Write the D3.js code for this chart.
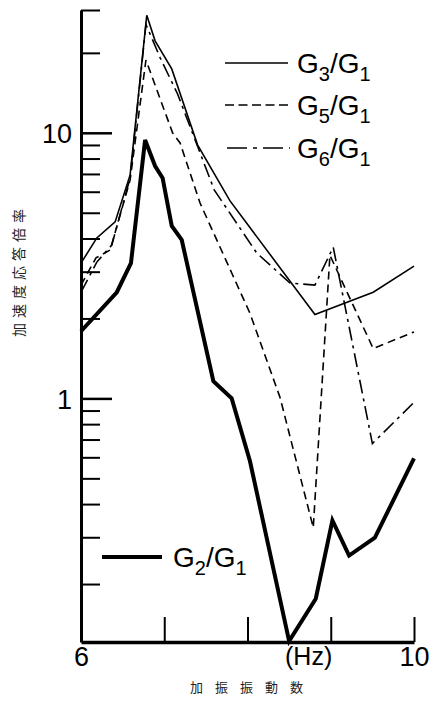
<!DOCTYPE html>
<html>
<head>
<meta charset="utf-8">
<script src="https://cdn.jsdelivr.net/npm/d3@7"></script>
<style>
  body { margin: 0; background: #fff; }
  svg { display: block; }
  text { font-family: "Liberation Sans", Arial, sans-serif; fill: #000; }
  .jp { font-family: "Noto Sans CJK JP", sans-serif; fill: #222; }
</style>
</head>
<body>
<div id="chart"></div>
<script>
// frequency (Hz) and response ratio for each curve
const freqG2 = [6.0, 6.43, 6.6, 6.77, 6.89, 6.98, 7.09, 7.21, 7.59, 7.81, 8.03, 8.5, 8.82, 9.02, 9.22, 9.53, 10.0];
const valG2  = [1.79, 2.51, 3.23, 9.4, 7.5, 6.76, 4.46, 3.95, 1.16, 1.0, 0.58, 0.122, 0.176, 0.347, 0.256, 0.299, 0.594];

const freqG3 = [6.0, 6.19, 6.41, 6.59, 6.79, 6.89, 7.09, 7.4, 7.79, 8.81, 9.51, 10.0];
const valG3  = [3.23, 4.02, 4.62, 6.94, 27.7, 22.2, 17.4, 9.01, 5.54, 2.07, 2.51, 3.15];

const freqG5 = [6.0, 6.18, 6.35, 6.59, 6.78, 7.1, 7.19, 7.43, 8.03, 8.39, 8.79, 8.99, 9.51, 10.0];
const valG5  = [2.67, 3.38, 3.62, 6.65, 18.8, 10.0, 9.16, 5.44, 2.09, 1.01, 0.326, 3.46, 1.54, 1.78];

const freqG6 = [6.0, 6.19, 6.37, 6.59, 6.78, 6.95, 7.16, 7.6, 8.11, 8.51, 8.81, 9.03, 9.5, 10.0];
const valG6  = [2.51, 3.26, 3.78, 6.77, 25.6, 19.2, 14.0, 6.1, 3.53, 2.72, 2.67, 3.71, 0.676, 0.966];

// axis ticks
const yMajorTicks = [1, 10];
const yMinorTicks = [0.2, 0.3, 0.4, 0.5, 0.6, 0.7, 0.8, 0.9, 2, 3, 4, 5, 6, 7, 8, 9, 20, 29];
const xTicks = [6, 7, 8, 9, 10];
const xTickLabels = ["6", "", "", "", "10"];

const yTitle = "加速度応答倍率";
const xTitle = "加振振動数";
const xUnit = "(Hz)";

const width = 429, height = 702;
const margin = { top: 10, right: 15, bottom: 60, left: 81 };

const svg = d3.select("#chart")
  .append("svg")
  .attr("width", width)
  .attr("height", height);

const x = d3.scaleLinear()
  .domain([6, 10])
  .range([margin.left, width - margin.right]);

const y = d3.scaleLog()
  .domain([0.121, 29])
  .range([height - margin.bottom, margin.top]);

// y axis: long ticks for decades, short ticks for the rest
svg.append("g")
  .attr("transform", `translate(${margin.left},0)`)
  .call(d3.axisLeft(y).tickValues(yMinorTicks).tickSize(-19).tickSizeOuter(0).tickFormat(""))
  .call(g => g.select(".domain").remove())
  .call(g => g.selectAll("line").attr("stroke-width", 2));

svg.append("g")
  .attr("transform", `translate(${margin.left},0)`)
  .call(d3.axisLeft(y).tickValues(yMajorTicks).tickSize(-31).tickSizeOuter(0).tickPadding(9)
    .tickFormat(d3.format("d")))
  .call(g => g.select(".domain").attr("stroke-width", 3))
  .call(g => g.selectAll("line").attr("stroke-width", 2.5))
  .call(g => g.selectAll("text").attr("font-size", 27).attr("font-family", "Liberation Sans").attr("dy", "0.36em"));

// x axis
svg.append("g")
  .attr("transform", `translate(0,${height - margin.bottom})`)
  .call(d3.axisBottom(x).tickValues(xTicks).tickSize(-25).tickSizeOuter(0).tickPadding(5)
    .tickFormat((d, i) => xTickLabels[i]))
  .call(g => g.select(".domain").attr("stroke-width", 3.5))
  .call(g => g.selectAll("line").attr("stroke-width", 2))
  .call(g => g.selectAll("text").attr("font-size", 27).attr("font-family", "Liberation Sans"));

svg.append("text")
  .attr("x", 285)
  .attr("y", 665)
  .attr("font-size", 25)
  .text(xUnit);

svg.append("text")
  .attr("class", "jp")
  .attr("x", 190)
  .attr("y", 692)
  .attr("font-size", 13)
  .attr("letter-spacing", 12)
  .text(xTitle);

svg.append("text")
  .attr("class", "jp")
  .attr("transform", "translate(24,337) rotate(-90)")
  .attr("font-size", 14)
  .attr("letter-spacing", 5)
  .text(yTitle);

// curves
const series = [
  { f: freqG3, v: valG3, width: 1.6, dash: null },
  { f: freqG5, v: valG5, width: 1.6, dash: "8,5" },
  { f: freqG6, v: valG6, width: 1.6, dash: "14,5,3,5" },
  { f: freqG2, v: valG2, width: 4, dash: null }
];

const line = d3.line()
  .x(d => x(d[0]))
  .y(d => y(d[1]));

series.forEach(s => {
  svg.append("path")
    .datum(d3.zip(s.f, s.v))
    .attr("fill", "none")
    .attr("stroke", "#000")
    .attr("stroke-width", s.width)
    .attr("stroke-dasharray", s.dash)
    .attr("stroke-linejoin", "miter")
    .attr("d", line);
});

// legend
const legend = [
  { num: "3", x1: 225, x2: 288, y: 63, tx: 297, width: 1.6, dash: null },
  { num: "5", x1: 225, x2: 290, y: 105, tx: 297, width: 1.6, dash: "9,4.5" },
  { num: "6", x1: 227, x2: 290, y: 148, tx: 297, width: 1.6, dash: "20,6,4,6" },
  { num: "2", x1: 102, x2: 162, y: 557, tx: 173, width: 4, dash: null }
];

legend.forEach(l => {
  svg.append("line")
    .attr("x1", l.x1).attr("x2", l.x2)
    .attr("y1", l.y).attr("y2", l.y)
    .attr("stroke", "#000")
    .attr("stroke-width", l.width)
    .attr("stroke-dasharray", l.dash);

  const t = svg.append("text")
    .attr("x", l.tx)
    .attr("y", l.y + 10)
    .attr("font-size", 28);
  t.append("tspan").text("G");
  t.append("tspan").attr("font-size", 20).attr("dy", 8).text(l.num);
  t.append("tspan").attr("dy", -8).text("/G");
  t.append("tspan").attr("font-size", 20).attr("dy", 8).text("1");
});
</script>
</body>
</html>
